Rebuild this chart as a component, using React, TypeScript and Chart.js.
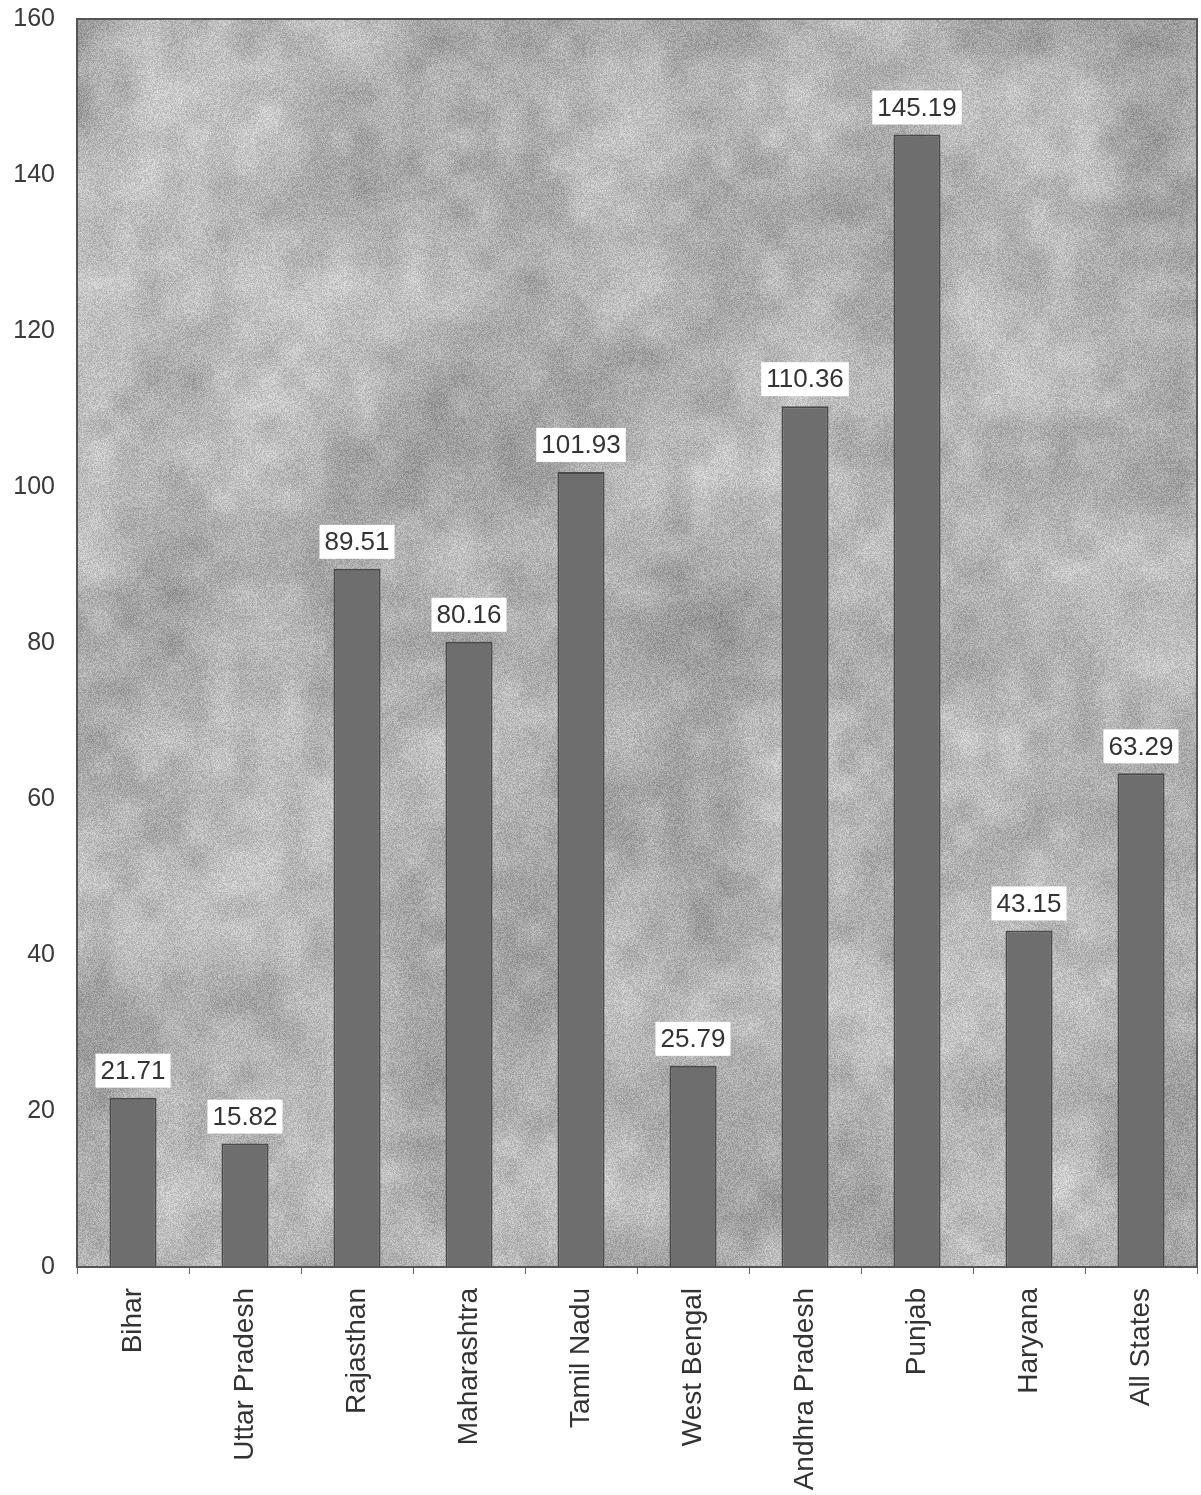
import React, { useEffect, useRef } from "react";
import { Chart, registerables } from "chart.js";

Chart.register(...registerables);

const categories = [
  "Bihar",
  "Uttar Pradesh",
  "Rajasthan",
  "Maharashtra",
  "Tamil Nadu",
  "West Bengal",
  "Andhra Pradesh",
  "Punjab",
  "Haryana",
  "All States",
];
const values = [21.71, 15.82, 89.51, 80.16, 101.93, 25.79, 110.36, 145.19, 43.15, 63.29];
const yMin = 0;
const yMax = 160;
const yStep = 20;

const FONT = "'Liberation Sans', Arial, sans-serif";

// deterministic hash for a paper-like texture (decoration only, not data)
function hash(x: number, y: number, s: number) {
  let h = (x * 374761393 + y * 668265263 + s * 2147483647) | 0;
  h = (h ^ (h >>> 13)) * 1274126177;
  h = h ^ (h >>> 16);
  return ((h >>> 0) % 10000) / 10000;
}
function valueNoise(x: number, y: number, cell: number, s: number) {
  const gx = Math.floor(x / cell);
  const gy = Math.floor(y / cell);
  const fx = x / cell - gx;
  const fy = y / cell - gy;
  const sx = fx * fx * (3 - 2 * fx);
  const sy = fy * fy * (3 - 2 * fy);
  const a = hash(gx, gy, s);
  const b = hash(gx + 1, gy, s);
  const c = hash(gx, gy + 1, s);
  const d = hash(gx + 1, gy + 1, s);
  return a + (b - a) * sx + (c - a) * sy + (a - b - c + d) * sx * sy;
}

const backgroundPlugin = {
  id: "plotBackground",
  beforeDraw(chart: any) {
    const { ctx, chartArea } = chart;
    if (!chartArea) return;
    const left = Math.round(chartArea.left);
    const top = Math.round(chartArea.top);
    const w = Math.round(chartArea.right - chartArea.left);
    const h = Math.round(chartArea.bottom - chartArea.top);
    const img = ctx.createImageData(w, h);
    const d = img.data;
    for (let y = 0; y < h; y++) {
      for (let x = 0; x < w; x++) {
        const coarse = valueNoise(x, y, 90, 1) - 0.5;
        const mid = valueNoise(x, y, 24, 2) - 0.5;
        const fine = hash(x, y, 3) - 0.5;
        let v = 178 + coarse * 38 + mid * 24 + fine * 44;
        if (v < 95) v = 95;
        if (v > 238) v = 238;
        const i = (y * w + x) * 4;
        d[i] = v;
        d[i + 1] = v;
        d[i + 2] = v;
        d[i + 3] = 255;
      }
    }
    ctx.putImageData(img, left, top);
  },
  afterDraw(chart: any) {
    const { ctx, chartArea } = chart;
    const { left, top, right, bottom } = chartArea;
    ctx.save();
    ctx.strokeStyle = "#555555";
    ctx.lineWidth = 2;
    ctx.strokeRect(left, top, right - left, bottom - top);
    ctx.restore();
  },
};

const labelPlugin = {
  id: "valueLabels",
  afterDatasetsDraw(chart: any) {
    const { ctx } = chart;
    const meta = chart.getDatasetMeta(0);
    ctx.save();
    ctx.font = `26px ${FONT}`;
    ctx.textAlign = "center";
    ctx.textBaseline = "middle";
    meta.data.forEach((bar: any, i: number) => {
      const text = values[i].toFixed(2);
      const w = ctx.measureText(text).width + 10;
      const h = 34;
      const bottom = bar.y - 10;
      ctx.fillStyle = "#ffffff";
      ctx.fillRect(bar.x - w / 2, bottom - h, w, h);
      ctx.fillStyle = "#333333";
      ctx.fillText(text, bar.x, bottom - h / 2 + 1);
    });
    ctx.restore();
  },
};

export default function App() {
  const ref = useRef<HTMLCanvasElement>(null);
  useEffect(() => {
    if (!ref.current) return;
    const chart = new Chart(ref.current, {
      type: "bar",
      data: {
        labels: categories,
        datasets: [
          {
            data: values,
            backgroundColor: "#6e6e6e",
            borderColor: "#4a4a4a",
            borderWidth: 2,
            barPercentage: 0.42,
            categoryPercentage: 1,
          },
        ],
      },
      options: {
        responsive: false,
        animation: false,
        layout: { padding: { top: 19, right: 4, left: 0, bottom: 0 } },
        plugins: {
          legend: { display: false },
          tooltip: { enabled: false },
        },
        scales: {
          x: {
            grid: {
              offset: true,
              drawOnChartArea: false,
              drawTicks: true,
              tickLength: 7,
              color: "#666666",
            },
            border: { display: true, color: "#555555", width: 2 },
            ticks: {
              maxRotation: 90,
              minRotation: 90,
              autoSkip: false,
              padding: 14,
              color: "#333333",
              font: { family: FONT, size: 28 },
            },
            afterFit(scale: any) {
              scale.height = 228;
              scale.paddingLeft = 0;
              scale.paddingRight = 0;
            },
          },
          y: {
            min: yMin,
            max: yMax,
            grid: { display: false, drawTicks: false },
            border: { display: true, color: "#555555", width: 2 },
            ticks: {
              stepSize: yStep,
              padding: 22,
              color: "#3a3a3a",
              font: { family: FONT, size: 25 },
            },
            afterFit(scale: any) {
              scale.width = 77;
              scale.paddingTop = 0;
              scale.paddingBottom = 0;
            },
          },
        },
      },
      plugins: [backgroundPlugin, labelPlugin],
    });
    return () => chart.destroy();
  }, []);
  return (
    <div style={{ position: "absolute", left: 0, top: 0, width: 1201, height: 1495, background: "#ffffff" }}>
      <canvas ref={ref} width={1201} height={1495} />
    </div>
  );
}
